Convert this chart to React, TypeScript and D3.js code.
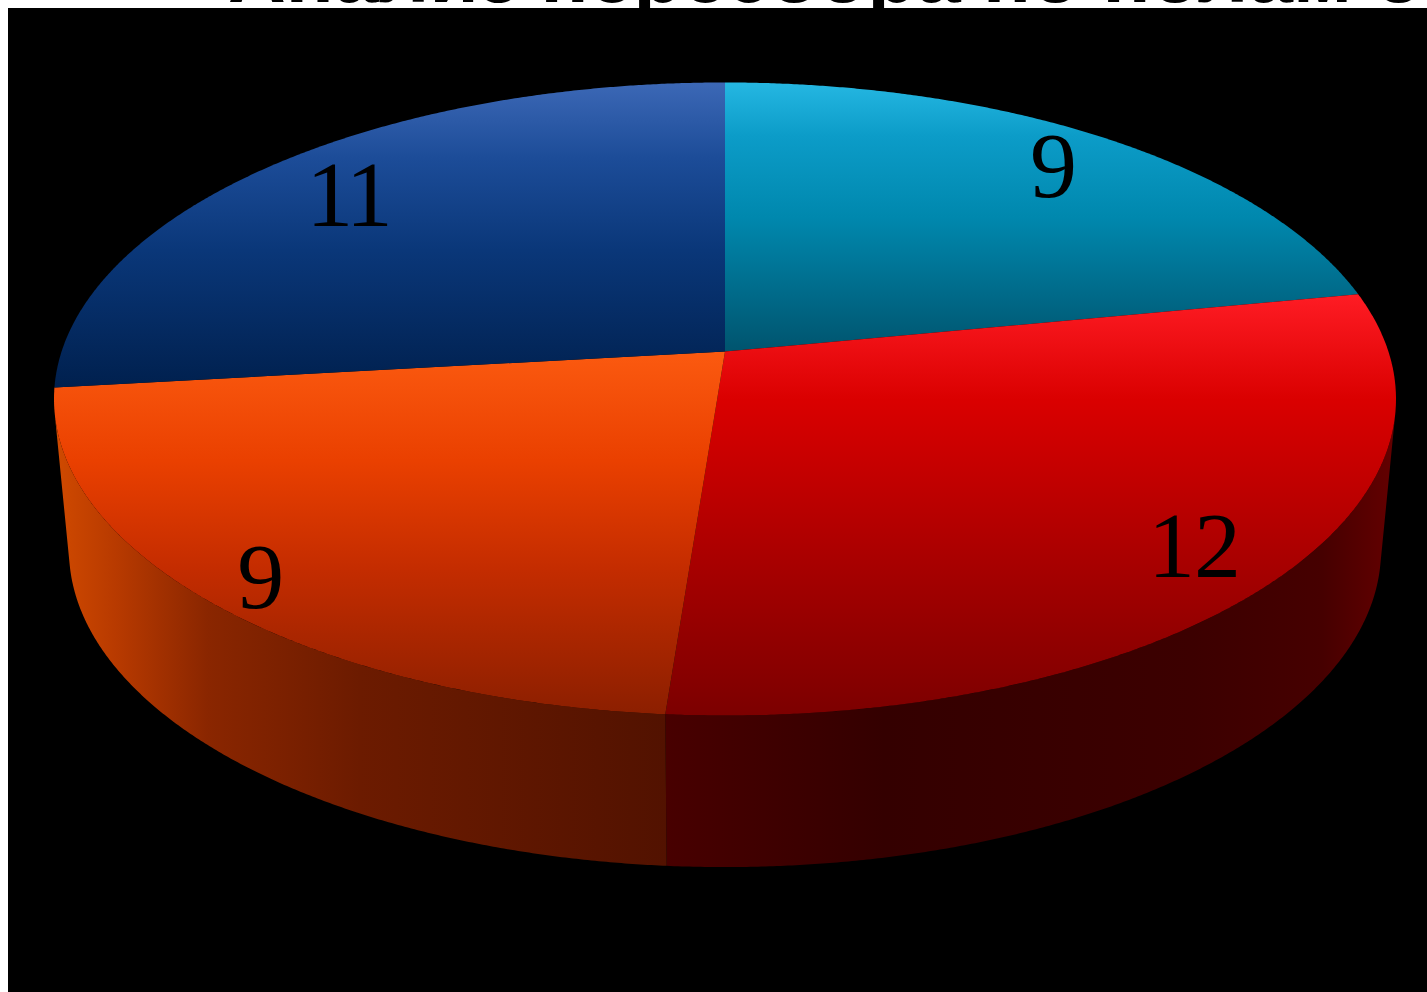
import React from "react";
import * as d3 from "d3";

const categories = ["Сегмент 1", "Сегмент 2", "Сегмент 3", "Сегмент 4"];
const values = [9, 12, 9, 11];
const titleText = "Анализ пересбора по полам он";

const topStops = [
  [[0, "#25b7e2"], [0.2, "#0c9cc8"], [0.5, "#0088ae"], [1, "#00546e"]],
  [[0, "#ff1c24"], [0.25, "#da0000"], [0.7, "#a00000"], [1, "#7c0000"]],
  [[0, "#fb5a10"], [0.3, "#ea4000"], [0.6, "#c42c00"], [1, "#8c1f00"]],
  [[0, "#3c68b6"], [0.25, "#1c4c98"], [0.55, "#0a3779"], [1, "#00204e"]],
];
const sideStops: Record<number, [number, string][]> = {
  1: [[0, "#480000"], [0.3, "#340000"], [0.72, "#3c0000"], [0.9, "#460000"], [1, "#640000"]],
  2: [[0, "#d04a00"], [0.1, "#b83a00"], [0.25, "#8a2600"], [0.5, "#6c1b00"], [1, "#521200"]],
};
const labelRadius = [0.855, 0.865, 0.91, 0.825];
const labelSpacing = [0, -1, 0, -4];

const W = 1427, H = 992;
const cx = 725, skew = 0.15;
const capY = 351.5, capA = 663.4, capB = 309.4;
const baseY = 502.5, baseA = 648.6, baseB = 309.9;
const edgeCos = -0.195;

const project = (theta: number, r: number, y0: number, A: number, B: number): [number, number] => {
  const den = 1 + skew * r * Math.cos(theta);
  return [cx + (A * r * Math.sin(theta)) / den, y0 - (B * r * Math.cos(theta)) / den];
};
const cap = (t: number, r = 1) => project(t, r, capY, capA, capB);
const base = (t: number) => project(t, 1, baseY, baseA, baseB);
const samples = (a: number, b: number) => {
  const n = Math.max(2, Math.ceil(Math.abs(b - a) / 0.005));
  return d3.range(n + 1).map((i) => a + ((b - a) * i) / n);
};

const pieGen = d3.pie<number>().sort(null).value((d) => d);
const arcs = pieGen(values);
const line = d3.line();
const edge = Math.acos(edgeCos);

export default function App() {
  const sides = arcs
    .map((a, i) => {
      const s = Math.max(a.startAngle, edge);
      const e = Math.min(a.endAngle, 2 * Math.PI - edge);
      if (e <= s) return null;
      const ts = samples(s, e);
      const pts = [...ts.map((t) => cap(t)), ...ts.slice().reverse().map((t) => base(t))];
      const xs = d3.extent(pts, (p) => p[0]) as [number, number];
      return { i, d: line(pts) + "Z", x0: xs[0], x1: xs[1] };
    })
    .filter(Boolean) as { i: number; d: string; x0: number; x1: number }[];

  return (
    <svg width={W} height={H} viewBox={`0 0 ${W} ${H}`} style={{ position: "absolute", left: 0, top: 0, display: "block", background: "#fff" }}>
      <defs>
        {arcs.map((_, i) => (
          <linearGradient key={i} id={`top${i}`} x1="0" y1="0" x2="0" y2="1">
            {topStops[i].map(([o, c], k) => (
              <stop key={k} offset={o as number} stopColor={c as string} />
            ))}
          </linearGradient>
        ))}
        {sides.map((s) => (
          <linearGradient key={s.i} id={`side${s.i}`} gradientUnits="userSpaceOnUse" x1={s.x0} y1="0" x2={s.x1} y2="0">
            {sideStops[s.i].map(([o, c], k) => (
              <stop key={k} offset={o} stopColor={c} />
            ))}
          </linearGradient>
        ))}
      </defs>
      <rect x={8} y={8} width={W - 8} height={H - 8} fill="#000" />
      <text x={228} y={1.5} fontFamily="'Liberation Sans', Arial, sans-serif" fontWeight="bold" fontSize={80} fill="#000">
        {titleText}
      </text>
      {sides.map((s) => (
        <path key={s.i} d={s.d} fill={`url(#side${s.i})`} />
      ))}
      {arcs.map((a, i) => {
        const pts = [cap(0, 0), ...samples(a.startAngle, a.endAngle).map((t) => cap(t))];
        return <path key={categories[i]} d={line(pts) + "Z"} fill={`url(#top${i})`} />;
      })}
      {arcs.map((a, i) => {
        const [x, y] = cap((a.startAngle + a.endAngle) / 2, labelRadius[i]);
        return (
          <text key={i} x={x} y={y} dy="0.33em" textAnchor="middle" fontFamily="'Liberation Serif', 'Times New Roman', serif" fontSize={94} letterSpacing={labelSpacing[i]} fill="#000">
            {values[i]}
          </text>
        );
      })}
    </svg>
  );
}
